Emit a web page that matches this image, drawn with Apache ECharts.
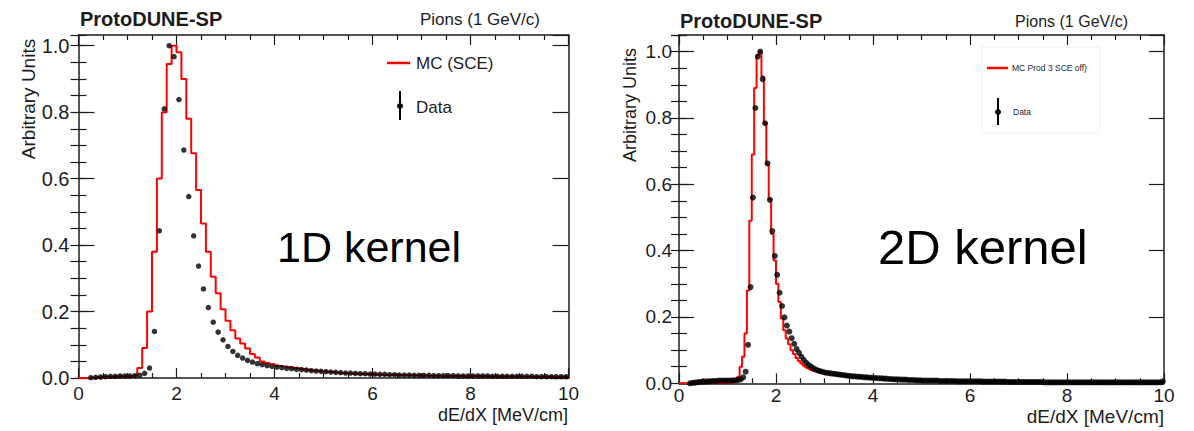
<!DOCTYPE html>
<html>
<head>
<meta charset="utf-8">
<script src="https://cdn.jsdelivr.net/npm/echarts@6/dist/echarts.min.js"></script>
<style>
html,body{margin:0;padding:0;background:#fff;}
#chart{width:1194px;height:431px;}
</style>
</head>
<body>
<div id="chart"></div>
<script>
// ---------------- DATA ----------------
const xTickValues = [0, 2, 4, 6, 8, 10];
const xTickLabels = ['0', '2', '4', '6', '8', '10'];
const yTickValues = [0, 0.2, 0.4, 0.6, 0.8, 1.0];
const yTickLabels = ['0.0', '0.2', '0.4', '0.6', '0.8', '1.0'];

// Left panel (1D kernel): histogram bins of width 0.1 from 0 to 10
const leftBinWidth = 0.1;
const leftMc = [
  0, 0, 0.001, 0.002, 0.003, 0.004, 0.004, 0.005, 0.005, 0.005,
  0.006, 0.008, 0.03, 0.09, 0.20, 0.38, 0.60, 0.80, 0.945, 1.0,
  0.98, 0.90, 0.78, 0.676, 0.566, 0.465, 0.38, 0.305, 0.255, 0.207,
  0.172, 0.144, 0.119, 0.104, 0.089, 0.072, 0.062, 0.05, 0.045, 0.042,
  0.037, 0.035, 0.033, 0.031, 0.029, 0.027, 0.025, 0.023, 0.022, 0.020,
  0.019, 0.018, 0.016, 0.015, 0.014, 0.013, 0.013, 0.012, 0.011, 0.011,
  0.010, 0.010, 0.009, 0.009, 0.009, 0.008, 0.008, 0.008, 0.008, 0.007,
  0.007, 0.007, 0.007, 0.006, 0.006, 0.006, 0.006, 0.006, 0.006, 0.006,
  0.005, 0.005, 0.005, 0.005, 0.005, 0.005, 0.005, 0.005, 0.005, 0.005,
  0.004, 0.004, 0.004, 0.004, 0.004, 0.004, 0.004, 0.004, 0.004, 0.004
];
const leftData = [
  null, null, 0.001, 0.002, 0.003, 0.004, 0.005, 0.005, 0.006, 0.006,
  0.006, 0.007, 0.008, 0.014, 0.03, 0.14, 0.443, 0.81, 1.0, 0.967,
  0.838, 0.686, 0.546, 0.428, 0.337, 0.268, 0.212, 0.168, 0.138, 0.115,
  0.095, 0.08, 0.068, 0.06, 0.053, 0.048, 0.043, 0.04, 0.037, 0.035,
  0.033, 0.031, 0.029, 0.028, 0.026, 0.025, 0.024, 0.022, 0.021, 0.020,
  0.019, 0.018, 0.017, 0.016, 0.015, 0.015, 0.014, 0.013, 0.013, 0.012,
  0.012, 0.011, 0.011, 0.010, 0.010, 0.009, 0.009, 0.009, 0.008, 0.008,
  0.008, 0.008, 0.007, 0.007, 0.007, 0.007, 0.007, 0.006, 0.006, 0.006,
  0.006, 0.006, 0.006, 0.006, 0.005, 0.005, 0.005, 0.005, 0.005, 0.005,
  0.005, 0.005, 0.005, 0.004, 0.004, 0.004, 0.004, 0.004, 0.004, 0.004
];

// Right panel (2D kernel): histogram bins of width 0.05 from 0 to 10
const rightBinWidth = 0.05;
const rightMc = [
  0, 0, 0, 0, 0, 0, 0, 0, 0, 0, 0, 0, 0, 0, 0, 0, 0, 0, 0, 0,
  0, 0.002, 0.004, 0.008, 0.02, 0.05, 0.08, 0.15, 0.28, 0.49, 0.69, 0.89, 0.99, 1.0, 0.925, 0.785, 0.66, 0.555, 0.45, 0.37,
  0.30, 0.245, 0.195, 0.16, 0.135, 0.118, 0.10, 0.088, 0.076, 0.067, 0.06, 0.053, 0.048, 0.044, 0.04, 0.037, 0.035, 0.033, 0.031, 0.029,
  0.028, 0.027, 0.026, 0.025, 0.024, 0.023, 0.022, 0.022, 0.021, 0.020, 0.019, 0.019, 0.018, 0.017, 0.017, 0.016, 0.016, 0.015, 0.015, 0.014,
  0.014, 0.013, 0.013, 0.013, 0.012, 0.012, 0.011, 0.011, 0.011, 0.010, 0.010, 0.010, 0.009, 0.009, 0.009, 0.009, 0.008, 0.008, 0.008, 0.008,
  0.007, 0.007, 0.007, 0.007, 0.007, 0.007, 0.007, 0.006, 0.006, 0.006, 0.006, 0.006, 0.006, 0.006, 0.005, 0.005, 0.005, 0.005, 0.005, 0.005,
  0.005, 0.005, 0.005, 0.005, 0.005, 0.005, 0.005, 0.005, 0.005, 0.005, 0.004, 0.004, 0.004, 0.004, 0.004, 0.004, 0.004, 0.004, 0.004, 0.004,
  0.004, 0.004, 0.004, 0.004, 0.004, 0.004, 0.004, 0.004, 0.004, 0.004, 0.003, 0.003, 0.003, 0.003, 0.003, 0.003, 0.003, 0.003, 0.003, 0.003,
  0.003, 0.003, 0.003, 0.003, 0.003, 0.003, 0.003, 0.003, 0.003, 0.003, 0.003, 0.003, 0.003, 0.003, 0.003, 0.003, 0.003, 0.003, 0.003, 0.003,
  0.003, 0.003, 0.003, 0.003, 0.003, 0.003, 0.003, 0.003, 0.003, 0.003, 0.002, 0.002, 0.002, 0.002, 0.002, 0.002, 0.002, 0.002, 0.002, 0.002
];
const rightData = [
  null, null, null, null, 0.0, 0.001, 0.002, 0.003, 0.004, 0.005, 0.005, 0.006, 0.006, 0.007, 0.007, 0.007, 0.008, 0.008, 0.008, 0.008,
  0.008, 0.008, 0.009, 0.009, 0.01, 0.012, 0.018, 0.035, 0.116, 0.29, 0.56, 0.83, 0.985, 1.0, 0.917, 0.784, 0.663, 0.553, 0.459, 0.384,
  0.327, 0.273, 0.233, 0.199, 0.174, 0.156, 0.136, 0.119, 0.103, 0.092, 0.08, 0.07, 0.062, 0.055, 0.05, 0.045, 0.041, 0.038, 0.036, 0.034,
  0.032, 0.031, 0.030, 0.029, 0.028, 0.027, 0.026, 0.025, 0.024, 0.023, 0.022, 0.021, 0.021, 0.020, 0.020, 0.019, 0.018, 0.018, 0.017, 0.017,
  0.016, 0.016, 0.015, 0.015, 0.014, 0.014, 0.013, 0.013, 0.012, 0.012, 0.012, 0.011, 0.011, 0.011, 0.010, 0.010, 0.010, 0.009, 0.009, 0.009,
  0.008, 0.008, 0.008, 0.008, 0.008, 0.008, 0.008, 0.007, 0.007, 0.007, 0.007, 0.007, 0.007, 0.007, 0.006, 0.006, 0.006, 0.006, 0.006, 0.006,
  0.006, 0.006, 0.006, 0.006, 0.006, 0.005, 0.005, 0.005, 0.005, 0.005, 0.005, 0.005, 0.005, 0.005, 0.005, 0.004, 0.004, 0.004, 0.004, 0.004,
  0.004, 0.004, 0.004, 0.004, 0.004, 0.004, 0.004, 0.004, 0.004, 0.004, 0.003, 0.003, 0.003, 0.003, 0.003, 0.003, 0.003, 0.003, 0.003, 0.003,
  0.003, 0.003, 0.003, 0.003, 0.003, 0.003, 0.003, 0.003, 0.003, 0.003, 0.003, 0.003, 0.003, 0.003, 0.003, 0.003, 0.003, 0.003, 0.003, 0.003,
  0.003, 0.003, 0.003, 0.003, 0.003, 0.003, 0.003, 0.003, 0.003, 0.003, 0.003, 0.003, 0.003, 0.003, 0.003, 0.003, 0.003, 0.003, 0.003, 0.006
];

const titleText = 'ProtoDUNE-SP';
const beamText = 'Pions (1 GeV/c)';
const yTitle = 'Arbitrary Units';
const xTitle = 'dE/dX [MeV/cm]';
const leftKernel = '1D kernel';
const rightKernel = '2D kernel';
const leftMcLabel = 'MC (SCE)';
const rightMcLabel = 'MC Prod 3 SCE off)';
const dataLabel = 'Data';

// ---------------- BUILD ----------------
const FONT = "'Liberation Sans', Arial, Helvetica, sans-serif";
const INK = '#1c1c1c';

function histSteps(vals, w) {
  const pts = vals.map((v, i) => [+(i * w).toFixed(4), v]);
  pts.push([+(vals.length * w).toFixed(4), vals[vals.length - 1]]);
  return pts;
}
function centers(vals, w) {
  const out = [];
  vals.forEach((v, i) => { if (v !== null) out.push([+((i + 0.5) * w).toFixed(4), v]); });
  return out;
}

const LEFT = { left: 78.5, top: 35, width: 490, height: 343, ymax: 343 / 332.3 };
const RIGHT = { left: 679, top: 35, width: 485, height: 348.3, ymax: 348.3 / 331.7 };

function xAxes(gridIndex, labelSize, labelMargin) {
  const base = {
    gridIndex, type: 'value', min: 0, max: 10, interval: 2,
    splitLine: { show: false },
    axisLine: { show: true, onZero: false, lineStyle: { color: INK, width: 1.5 } },
    axisTick: { show: true, inside: true, length: 10, lineStyle: { color: INK, width: 1.2 } },
    minorTick: { show: true, splitNumber: 4, length: 5, lineStyle: { color: INK, width: 1.2 } },
    minorSplitLine: { show: false }
  };
  return [
    Object.assign({}, base, {
      position: 'bottom',
      axisLabel: {
        show: true, margin: labelMargin, color: INK, fontFamily: FONT, fontSize: labelSize, lineHeight: labelSize,
        formatter: v => { const i = xTickValues.indexOf(v); return i >= 0 ? xTickLabels[i] : ''; }
      }
    }),
    Object.assign({}, base, { position: 'top', axisLabel: { show: false } })
  ];
}
function yAxes(gridIndex, ymax, labelSize, labelMargin, majorLen) {
  const common = {
    gridIndex, type: 'value', min: 0, max: ymax,
    splitLine: { show: false },
    axisLine: { show: true, onZero: false, lineStyle: { color: INK, width: 1.5 } }
  };
  const major = Object.assign({}, common, {
    interval: 0.2,
    axisTick: { show: true, inside: true, length: majorLen, lineStyle: { color: INK, width: 1.2 } }
  });
  const minor = Object.assign({}, common, {
    interval: 0.05,
    axisLine: { show: false },
    axisLabel: { show: false },
    axisTick: { show: true, inside: true, length: 8, lineStyle: { color: INK, width: 1.2 } }
  });
  return [
    Object.assign({}, major, {
      position: 'left',
      axisLabel: {
        show: true, margin: labelMargin, color: INK, fontFamily: FONT, fontSize: labelSize,
        showMaxLabel: false,
        formatter: v => {
          for (let i = 0; i < yTickValues.length; i++) if (Math.abs(v - yTickValues[i]) < 1e-6) return yTickLabels[i];
          return '';
        }
      }
    }),
    Object.assign({}, minor, { position: 'left' }),
    Object.assign({}, major, { position: 'right', axisLabel: { show: false } }),
    Object.assign({}, minor, { position: 'right' })
  ];
}

function txt(x, y, text, size, opts) {
  return Object.assign({
    type: 'text', x, y, silent: true,
    style: Object.assign({
      text, fontFamily: FONT, fontSize: size, fill: INK,
      textAlign: 'left', textVerticalAlign: 'middle'
    }, (opts && opts.style) || {})
  }, (opts && opts.el) || {});
}

const chart = echarts.init(document.getElementById('chart'), null, { renderer: 'svg', width: 1194, height: 431 });

const option = {
  backgroundColor: '#ffffff',
  animation: false,
  grid: [
    { left: LEFT.left, top: LEFT.top, width: LEFT.width, height: LEFT.height, containLabel: false },
    { left: RIGHT.left, top: RIGHT.top, width: RIGHT.width, height: RIGHT.height, containLabel: false }
  ],
  xAxis: [].concat(xAxes(0, 19, 6), xAxes(1, 19, 3)),
  yAxis: [].concat(yAxes(0, LEFT.ymax, 20, 9, 16), yAxes(1, RIGHT.ymax, 19, 7, 15)),
  series: [
    {
      type: 'line', xAxisIndex: 0, yAxisIndex: 0, step: 'end', showSymbol: false,
      data: histSteps(leftMc, leftBinWidth),
      lineStyle: { color: '#ff0000', width: 2 }, z: 2
    },
    {
      type: 'scatter', xAxisIndex: 0, yAxisIndex: 0, symbol: 'circle', symbolSize: 5.5,
      data: centers(leftData, leftBinWidth),
      itemStyle: { color: '#000000' }, z: 3
    },
    {
      type: 'line', xAxisIndex: 2, yAxisIndex: 4, step: 'end', showSymbol: false,
      data: histSteps(rightMc, rightBinWidth),
      lineStyle: { color: '#ff0000', width: 2 }, z: 2
    },
    {
      type: 'scatter', xAxisIndex: 2, yAxisIndex: 4, symbol: 'circle', symbolSize: 6,
      data: centers(rightData, rightBinWidth),
      itemStyle: { color: '#000000' }, z: 3
    }
  ],
  graphic: [
    // Left panel texts
    txt(80, 19, titleText, 20, { style: { fontWeight: 'bold' } }),
    txt(540, 19, beamText, 17, { style: { textAlign: 'right' } }),
    txt(28, 99, yTitle, 19, { style: { textAlign: 'center' }, el: { rotation: Math.PI / 2 } }),
    txt(568, 415, xTitle, 18, { style: { textAlign: 'right' } }),
    txt(277, 247, leftKernel, 43, { style: { fill: '#000' } }),
    // Left legend
    { type: 'line', silent: true, shape: { x1: 387, y1: 63, x2: 410, y2: 63 }, style: { stroke: '#ff0000', lineWidth: 2.5 } },
    txt(416, 63, leftMcLabel, 17),
    { type: 'line', silent: true, shape: { x1: 400, y1: 91, x2: 400, y2: 120 }, style: { stroke: '#000', lineWidth: 2 } },
    { type: 'circle', silent: true, shape: { cx: 400, cy: 106, r: 3 }, style: { fill: '#000' } },
    txt(416, 107, dataLabel, 17),

    // Right panel texts
    txt(680, 21, titleText, 20, { style: { fontWeight: 'bold' } }),
    txt(1128, 21, beamText, 16, { style: { textAlign: 'right' } }),
    txt(630, 105, yTitle, 18, { style: { textAlign: 'center' }, el: { rotation: Math.PI / 2 } }),
    txt(1164, 416, xTitle, 19, { style: { textAlign: 'right' } }),
    txt(878, 247, rightKernel, 49, { style: { fill: '#000' } }),
    // Right legend
    { type: 'rect', silent: true, shape: { x: 982, y: 47, width: 118, height: 86 }, style: { fill: '#ffffff', stroke: '#f0f0f0', lineWidth: 1 } },
    { type: 'line', silent: true, shape: { x1: 987, y1: 68, x2: 1008, y2: 68 }, style: { stroke: '#ff0000', lineWidth: 2.5 } },
    txt(1012, 68, rightMcLabel, 8.5),
    { type: 'line', silent: true, shape: { x1: 998, y1: 98, x2: 998, y2: 125 }, style: { stroke: '#000', lineWidth: 2 } },
    { type: 'circle', silent: true, shape: { cx: 998, cy: 112, r: 3 }, style: { fill: '#000' } },
    txt(1013, 112, dataLabel, 8.5)
  ]
};
chart.setOption(option);
</script>
</body>
</html>
